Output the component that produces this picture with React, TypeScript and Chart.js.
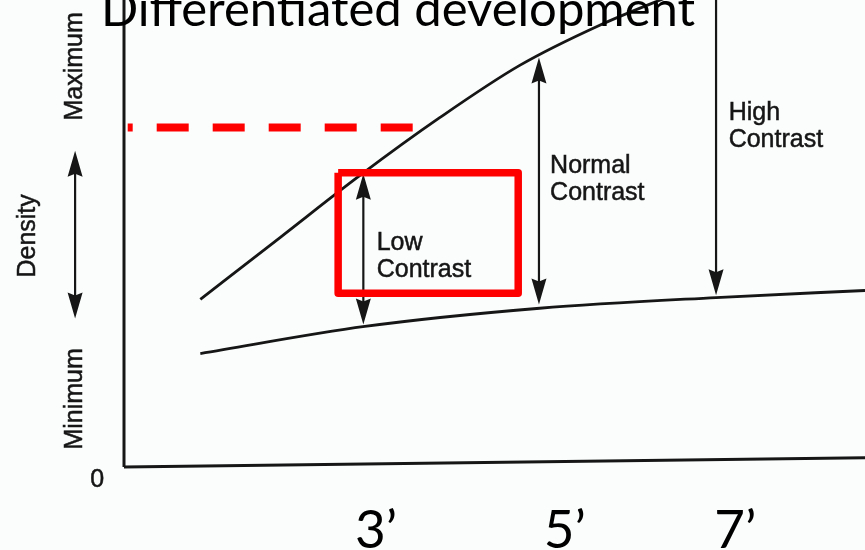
import { useEffect, useRef } from "react";
import { Chart, registerables } from "chart.js";

Chart.register(...registerables);

// Exposure runs 0..10 along the horizontal axis, density 0..100 up the vertical one.
const highlightExposure = [1.03, 2.11, 3.18, 4.26, 5.34, 6.42, 7.5];
const highlightDensity = [35.9, 49.2, 62.4, 74.8, 86.0, 94.6, 101.7];

const shadowExposure = [1.03, 3.25, 5.61, 7.99, 10];
const shadowDensity = [24.3, 30.1, 34.0, 36.3, 37.8];

// Development-time tick labels along the exposure axis
const timeTickValues = [3.4, 5.95, 8.25];
const timeTickLabels = ["3’", "5’", "7’"];

// Contrast spans: exposure, top and bottom density, whether the top end has a head
const contrastNames = [
  ["Low", "Contrast"],
  ["Normal", "Contrast"],
  ["High", "Contrast"],
];
const contrastExposure = [3.23, 5.6, 7.99];
const contrastTop = [62.8, 87.7, 100];
const contrastBottom = [30.5, 34.8, 36.8];
const contrastTopHead = [true, true, false];
const contrastLabelExposure = [3.41, 5.75, 8.16];
const contrastLabelDensity = [46.5, 63.0, 74.4];

// Density range marker beside the vertical axis
const densityRange = [31.8, 67.7];

// Reference density level (dashed) and the highlighted low-contrast region
const referenceLevel = 72.7;
const referenceExposure = [0.05, 3.9];
const boxExposure = [2.89, 5.32];
const boxDensity = [37.2, 63.0];

// Baseline of the exposure axis rises slightly to the right
const axisExposure = [0, 10];
const axisDensity = [0, 2.0];

const INK = "#161616";
const LABEL_FONT = '25px "Liberation Sans", Arial, sans-serif';

function arrowHead(ctx: CanvasRenderingContext2D, x: number, y: number, dir: number) {
  // dir = -1 points up, +1 points down
  ctx.beginPath();
  ctx.moveTo(x, y);
  ctx.lineTo(x - 7.5, y - dir * 26);
  ctx.lineTo(x, y - dir * 23);
  ctx.lineTo(x + 7.5, y - dir * 26);
  ctx.closePath();
  ctx.fill();
}

function doubleArrow(
  ctx: CanvasRenderingContext2D,
  x: number,
  yTop: number,
  yBottom: number,
  headTop: boolean
) {
  ctx.beginPath();
  ctx.moveTo(x, headTop ? yTop + 10 : yTop);
  ctx.lineTo(x, yBottom - 10);
  ctx.stroke();
  if (headTop) arrowHead(ctx, x, yTop, -1);
  arrowHead(ctx, x, yBottom, 1);
}

const diagramPlugin = {
  id: "diagram",
  beforeDraw(chart: any) {
    const { ctx, width, height } = chart;
    ctx.save();
    ctx.fillStyle = "#fbfdfd";
    ctx.fillRect(0, 0, width, height);
    ctx.restore();
  },
  beforeDatasetsDraw(chart: any) {
    const { ctx, scales } = chart;
    const xs = scales.x;
    const ys = scales.y;
    ctx.save();
    ctx.strokeStyle = INK;
    ctx.fillStyle = INK;
    ctx.lineWidth = 2.2;
    contrastExposure.forEach((e, i) => {
      doubleArrow(
        ctx,
        xs.getPixelForValue(e),
        ys.getPixelForValue(contrastTop[i]),
        ys.getPixelForValue(contrastBottom[i]),
        contrastTopHead[i]
      );
    });
    // density range marker left of the axis
    doubleArrow(
      ctx,
      xs.getPixelForValue(-0.66),
      ys.getPixelForValue(densityRange[1]),
      ys.getPixelForValue(densityRange[0]),
      true
    );
    ctx.restore();
  },
  afterDatasetsDraw(chart: any) {
    const { ctx, scales } = chart;
    const xs = scales.x;
    const ys = scales.y;
    ctx.save();
    ctx.fillStyle = INK;
    ctx.strokeStyle = INK;
    ctx.lineWidth = 0.5;
    ctx.font = LABEL_FONT;
    ctx.textAlign = "left";
    ctx.textBaseline = "alphabetic";
    const put = (t: string, x: number, y: number) => {
      ctx.fillText(t, x, y);
      ctx.strokeText(t, x, y);
    };
    contrastNames.forEach((lines, i) => {
      const x = xs.getPixelForValue(contrastLabelExposure[i]);
      const y = ys.getPixelForValue(contrastLabelDensity[i]);
      lines.forEach((t, j) => put(t, x, y + j * 27));
    });

    // rotated axis captions
    const rotated = (text: string, xv: number, yv: number) => {
      ctx.save();
      ctx.translate(xs.getPixelForValue(xv), ys.getPixelForValue(yv));
      ctx.rotate(-Math.PI / 2);
      ctx.textAlign = "center";
      ctx.textBaseline = "alphabetic";
      put(text, 0, 0);
      ctx.restore();
    };
    rotated("Maximum", -0.57, 85.8);
    rotated("Density", -1.2, 49.5);
    rotated("Minimum", -0.57, 14.6);

    ctx.textAlign = "center";
    ctx.textBaseline = "middle";
    put("0", xs.getPixelForValue(-0.36), ys.getPixelForValue(-2.8));
    ctx.restore();
  },
  afterDraw(chart: any) {
    const { ctx } = chart;
    ctx.save();
    ctx.fillStyle = "#000";
    ctx.font = '49px Lato, "Open Sans", sans-serif';
    ctx.textAlign = "center";
    ctx.textBaseline = "alphabetic";
    ctx.fillText("Differentiated development", 398, 26);
    ctx.restore();
  },
};

const pts = (xs: number[], ys: number[]) => xs.map((x, i) => ({ x, y: ys[i] }));

export default function App() {
  const canvasRef = useRef<HTMLCanvasElement | null>(null);

  useEffect(() => {
    document.body.style.margin = "0";
    const canvas = canvasRef.current;
    if (!canvas) return;
    const chart = new Chart(canvas, {
      type: "line",
      data: {
        datasets: [
          {
            label: "Low-contrast box",
            data: [
              { x: boxExposure[0], y: boxDensity[1] },
              { x: boxExposure[1], y: boxDensity[1] },
              { x: boxExposure[1], y: boxDensity[0] },
              { x: boxExposure[0], y: boxDensity[0] },
              { x: boxExposure[0], y: boxDensity[1] },
            ],
            borderColor: "#ff0000",
            borderWidth: 7.5,
            borderJoinStyle: "round",
            pointRadius: 0,
            tension: 0,
            order: 0,
          },
          {
            label: "Reference density",
            data: [
              { x: referenceExposure[0], y: referenceLevel },
              { x: referenceExposure[1], y: referenceLevel },
            ],
            borderColor: "#ff0000",
            borderWidth: 8,
            borderDash: [32, 24],
            borderDashOffset: 27,
            borderCapStyle: "butt",
            pointRadius: 0,
            order: 1,
          },
          {
            label: "Highlights",
            data: pts(highlightExposure, highlightDensity),
            borderColor: INK,
            borderWidth: 2.8,
            pointRadius: 0,
            cubicInterpolationMode: "monotone",
            order: 2,
          },
          {
            label: "Shadows",
            data: pts(shadowExposure, shadowDensity),
            borderColor: INK,
            borderWidth: 2.8,
            pointRadius: 0,
            cubicInterpolationMode: "monotone",
            order: 3,
          },
          {
            label: "Exposure axis",
            data: pts(axisExposure, axisDensity),
            borderColor: INK,
            borderWidth: 3,
            pointRadius: 0,
            clip: false,
            order: 4,
          },
          {
            label: "Density axis",
            data: [
              { x: 0, y: 0 },
              { x: 0, y: 101 },
            ],
            borderColor: INK,
            borderWidth: 3,
            pointRadius: 0,
            clip: false,
            order: 4,
          },
        ],
      },
      options: {
        responsive: false,
        animation: false,
        devicePixelRatio: 1,
        layout: { padding: { left: 124, right: 0, top: 0, bottom: -44 } },
        plugins: {
          legend: { display: false },
          tooltip: { enabled: false },
          title: { display: false },
        },
        scales: {
          x: {
            type: "linear",
            min: 0,
            max: 10,
            grid: { display: false, drawTicks: false },
            border: { display: false },
            afterBuildTicks: (scale: any) => {
              scale.ticks = timeTickValues.map((v) => ({ value: v }));
            },
            ticks: {
              autoSkip: false,
              maxRotation: 0,
              padding: 42,
              color: "#000",
              font: { family: 'Lato, "Open Sans", sans-serif', size: 53, lineHeight: 0.81 },
              callback: (_v: any, i: number) => timeTickLabels[i],
            },
          },
          y: {
            type: "linear",
            display: false,
            min: 0,
            max: 100,
          },
        },
      },
      plugins: [diagramPlugin],
    } as any);
    return () => chart.destroy();
  }, []);

  return (
    <div style={{ width: 865, height: 550 }}>
      <canvas ref={canvasRef} width={865} height={550} style={{ display: "block" }} />
    </div>
  );
}
